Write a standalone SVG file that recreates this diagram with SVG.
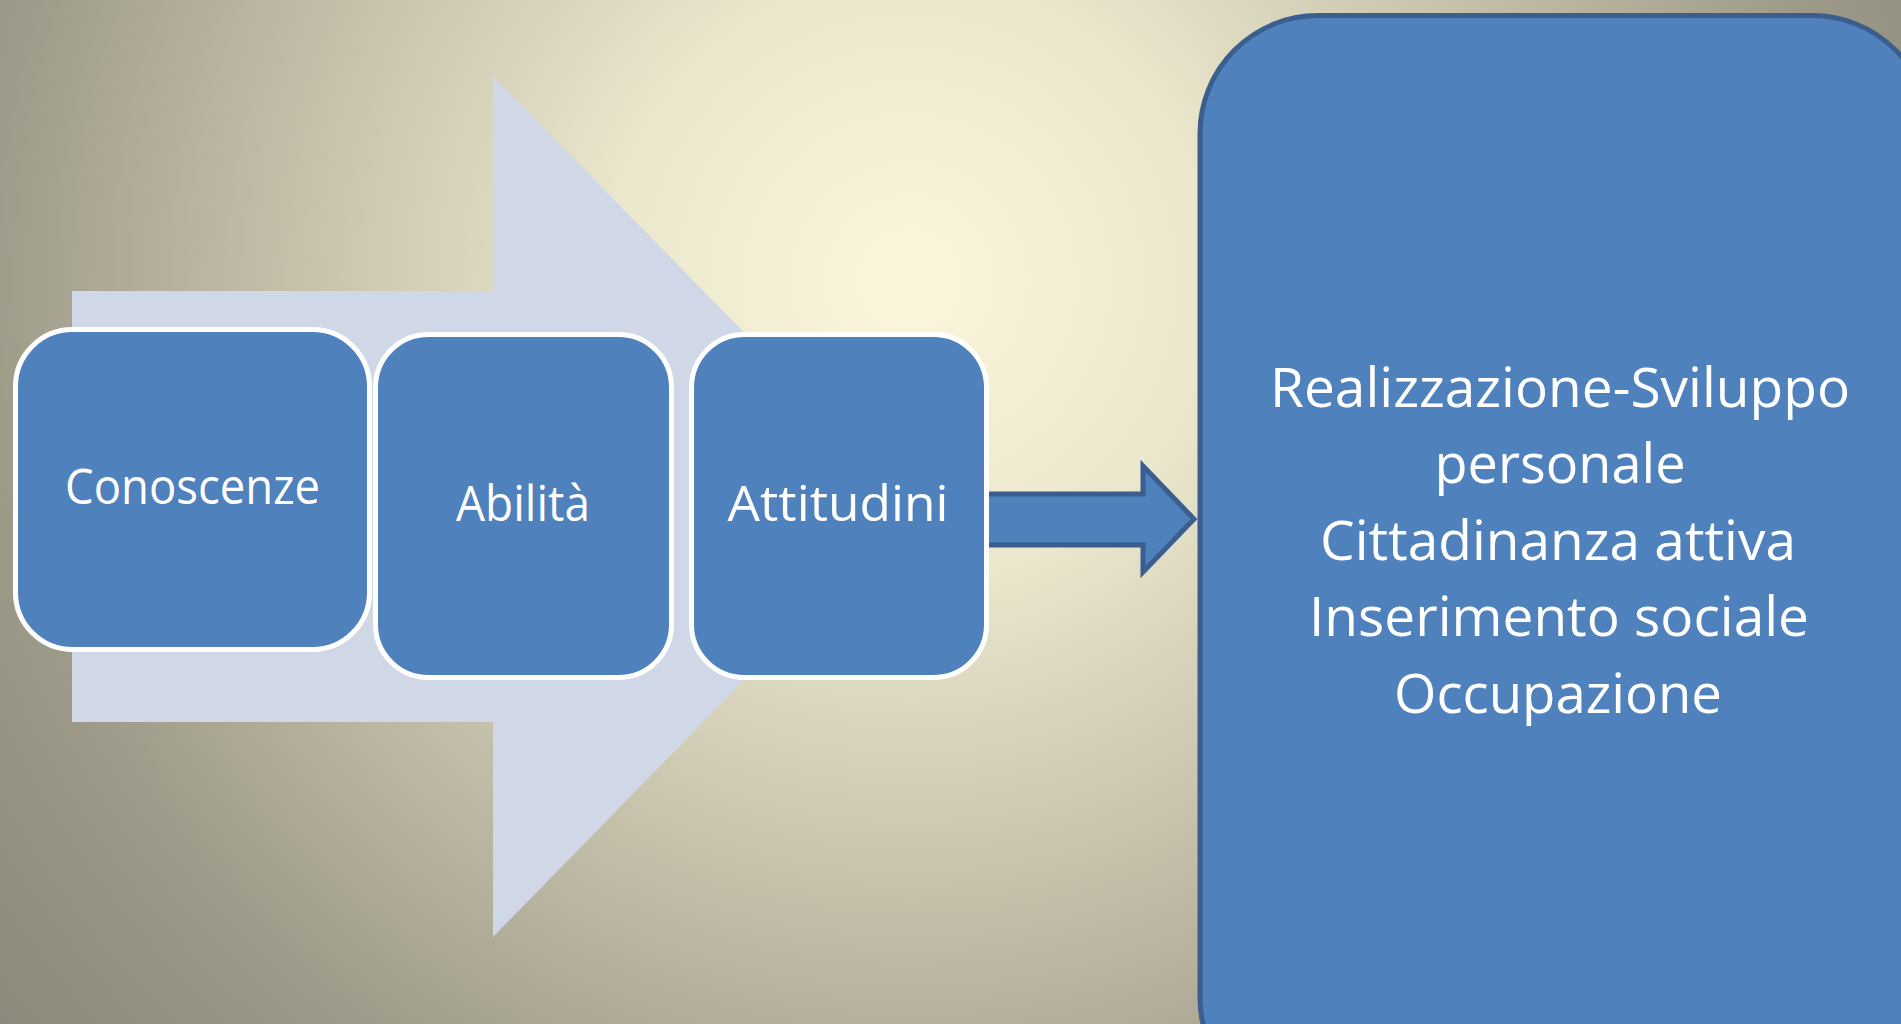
<svg xmlns="http://www.w3.org/2000/svg" width="1901" height="1024" viewBox="0 0 1901 1024">
  <defs>
    <radialGradient id="bg" gradientUnits="userSpaceOnUse" cx="910" cy="280" r="1200">
      <stop offset="0" stop-color="#FBF6DC"/>
      <stop offset="0.25" stop-color="#EBE7CD"/>
      <stop offset="0.5" stop-color="#C6C2AC"/>
      <stop offset="0.78" stop-color="#9D9988"/>
      <stop offset="1" stop-color="#8A8679"/>
    </radialGradient>
    <style>
      .box { fill: #4F81BD; stroke: #FFFFFF; stroke-width: 5; }
      .big { fill: #4F81BD; stroke: #3A5F8E; stroke-width: 5; }
      .lbl { font-family: "Open Sans", "Liberation Sans", sans-serif; fill: #FFFFFF; text-anchor: middle; }
      .conn { fill: #4F81BD; stroke: #3A5F8E; stroke-width: 5; stroke-linejoin: miter; }
    </style>
  </defs>

  <rect x="0" y="0" width="1901" height="1024" fill="url(#bg)"/>

  <g id="background-arrow">
    <polygon points="72,291 493,291 493,76 914,506 493,937 493,722 72,722" fill="#D0D8E8"/>
  </g>

  <g id="connectors">
    <path class="conn" d="M 980 494 L 1143 494 L 1143 466 L 1194 519 L 1143 572 L 1143 545 L 980 545 Z"/>
  </g>

  <g id="node-conoscenze">
    <rect class="box" x="15.5" y="329.5" width="354" height="320" rx="57" ry="57"/>
    <text class="lbl" x="192.5" y="504" font-size="49" textLength="255" lengthAdjust="spacingAndGlyphs">Conoscenze</text>
  </g>

  <g id="node-abilita">
    <rect class="box" x="375.5" y="334.5" width="296" height="343" rx="53" ry="53"/>
    <text class="lbl" x="523" y="521" font-size="49" textLength="134" lengthAdjust="spacingAndGlyphs">Abilità</text>
  </g>

  <g id="node-attitudini">
    <rect class="box" x="691.5" y="334.5" width="295" height="343" rx="53" ry="53"/>
    <text class="lbl" x="838" y="521" font-size="50" textLength="221" lengthAdjust="spacingAndGlyphs">Attitudini</text>
  </g>

  <g id="node-risultati">
    <rect class="big" x="1200" y="15.5" width="730" height="1100" rx="118" ry="118"/>
    <text class="lbl" font-size="54">
      <tspan x="1560" y="406.5" textLength="580" lengthAdjust="spacingAndGlyphs">Realizzazione-Sviluppo</tspan>
    </text>
    <text class="lbl" x="1560" y="483" font-size="54" textLength="251" lengthAdjust="spacingAndGlyphs">personale</text>
    <text class="lbl" x="1558" y="559.5" font-size="54" textLength="476" lengthAdjust="spacingAndGlyphs">Cittadinanza attiva</text>
    <text class="lbl" x="1559" y="636" font-size="54" textLength="500" lengthAdjust="spacingAndGlyphs">Inserimento sociale</text>
    <text class="lbl" x="1558" y="712.5" font-size="54" textLength="328" lengthAdjust="spacingAndGlyphs">Occupazione</text>
  </g>
</svg>
